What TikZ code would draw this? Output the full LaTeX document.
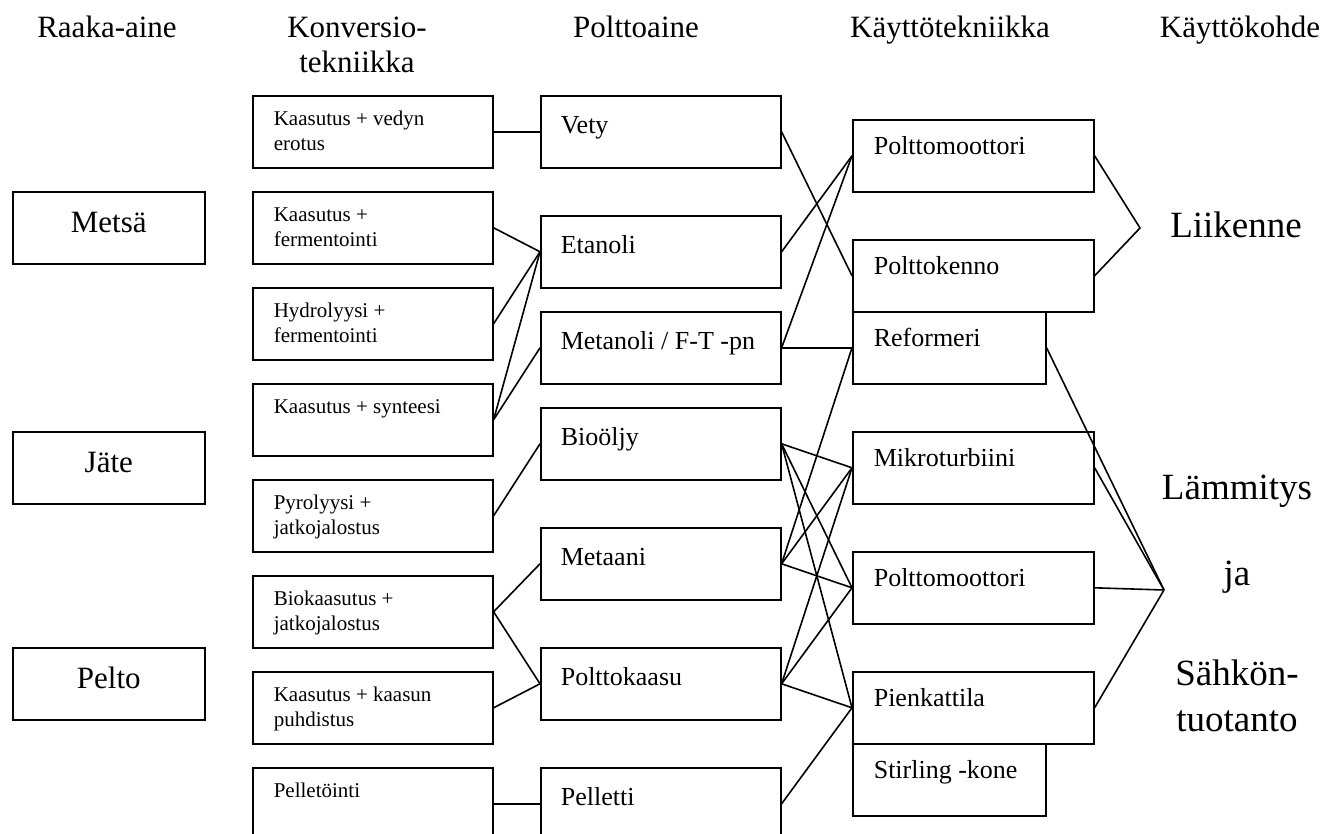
\documentclass[tikz,border=0pt]{standalone}
\usepackage{fontspec}
\setmainfont{Liberation Serif}
\usetikzlibrary{positioning}
\tikzset{
    box/.style={draw, rectangle, line width=1.6pt, inner ysep=0pt, anchor=north west, align=flush left},
    source/.style={box, align=flush center, inner xsep=0pt, text width=192pt, text height=41pt, text depth=31pt, font=\fontsize{31}{35}\selectfont},
    conv/.style={box, inner xsep=21pt, text width=198pt, text height=30pt, text depth=42pt, font=\fontsize{21}{25}\selectfont},
    fuel/.style={box, inner xsep=20pt, text width=200pt, text height=38pt, text depth=34pt, font=\fontsize{26}{30}\selectfont},
    tech/.style={box, inner xsep=21pt, text width=199pt, text height=35pt, text depth=37pt, font=\fontsize{26}{30}\selectfont},
    techs/.style={tech, text width=151pt},
    head/.style={anchor=base, align=flush center, text width=220pt, inner sep=0pt, font=\fontsize{31}{35}\selectfont},
    target/.style={anchor=base, align=flush center, text width=160pt, inner sep=0pt, font=\fontsize{37}{46}\selectfont},
    link/.style={line width=1.6pt} }

\begin{document}
\begin{tikzpicture}[x=1pt, y=-1pt]
	\useasboundingbox (0,0) rectangle (1328,834);
	% ---- otsikot
	\node[head] (hRaaka) at (107,38) {Raaka-aine};
	\node[head] (hKonv) at (357,38) {Konversio-\\tekniikka};
	\node[head] (hPoa) at (636,38) {Polttoaine};
	\node[head] (hKt) at (950,38) {Käyttötekniikka};
	\node[head] (hKohde) at (1240,38) {Käyttökohde};
	% ---- raaka-aineet
	\node[source] (metsa) at (12,191) {Metsä};
	\node[source] (jate) at (12,431) {Jäte};
	\node[source] (pelto) at (12,647) {Pelto};
	% ---- konversiotekniikat
	\node[conv] (kVety) at (252,95) {Kaasutus + vedyn\\erotus};
	\node[conv] (kFerm) at (252,191) {Kaasutus +\\fermentointi};
	\node[conv] (hydro) at (252,287) {Hydrolyysi +\\fermentointi};
	\node[conv] (synt) at (252,383) {Kaasutus + synteesi};
	\node[conv] (pyro) at (252,479) {Pyrolyysi +\\jatkojalostus};
	\node[conv] (biok) at (252,575) {Biokaasutus +\\jatkojalostus};
	\node[conv] (kPuhd) at (252,671) {Kaasutus + kaasun\\puhdistus};
	\node[conv] (pell) at (252,767) {Pelletöinti};
	% ---- polttoaineet
	\node[fuel] (vety) at (540,95) {Vety};
	\node[fuel] (etanoli) at (540,215) {Etanoli};
	\node[fuel] (metanoli) at (540,311) {\mbox{Metanoli / F-T -pn}};
	\node[fuel] (biooljy) at (540,407) {Bioöljy};
	\node[fuel] (metaani) at (540,527) {Metaani};
	\node[fuel] (pkaasu) at (540,647) {Polttokaasu};
	\node[fuel] (pelletti) at (540,767) {Pelletti};
	% ---- kayttotekniikat
	\node[tech] (pm1) at (852,119) {Polttomoottori};
	\node[tech] (kenno) at (852,239) {Polttokenno};
	\node[techs] (reform) at (852,311) {Reformeri};
	\node[tech] (mikro) at (852,431) {Mikroturbiini};
	\node[tech] (pm2) at (852,551) {Polttomoottori};
	\node[tech] (pienk) at (852,671) {Pienkattila};
	\node[techs] (stirl) at (852,743) {Stirling -kone};
	% ---- kayttokohteet
	\node[target] (liikenne) at (1236,238) {Liikenne};
	\node[target] (lammitys) at (1237,499) {Lämmitys\\[40pt]ja\\[54pt]Sähkön-\\tuotanto};
	\coordinate (liikP) at (1140,228);
	\coordinate (lampP) at (1164,590);
	% ---- konversio -> polttoaine
	\draw[link] (kVety.east) -- (vety.west);
	\draw[link] (kFerm.east) -- (etanoli.west);
	\draw[link] (hydro.east) -- (etanoli.west);
	\draw[link] (synt.east) -- (etanoli.west);
	\draw[link] (synt.east) -- (metanoli.west);
	\draw[link] (pyro.east) -- (biooljy.west);
	\draw[link] (biok.east) -- (metaani.west);
	\draw[link] (biok.east) -- (pkaasu.west);
	\draw[link] (kPuhd.east) -- (pkaasu.west);
	\draw[link] (pell.east) -- (pelletti.west);
	% ---- polttoaine -> kayttotekniikka
	\draw[link] (vety.east) -- (kenno.west);
	\draw[link] (etanoli.east) -- (pm1.west);
	\draw[link] (metanoli.east) -- (pm1.west);
	\draw[link] (metanoli.east) -- (reform.west);
	\draw[link] (biooljy.east) -- (mikro.west);
	\draw[link] (biooljy.east) -- (pm2.west);
	\draw[link] (biooljy.east) -- (pienk.west);
	\draw[link] (metaani.east) -- (reform.west);
	\draw[link] (metaani.east) -- (mikro.west);
	\draw[link] (metaani.east) -- (pm2.west);
	\draw[link] (pkaasu.east) -- (mikro.west);
	\draw[link] (pkaasu.east) -- (pm2.west);
	\draw[link] (pkaasu.east) -- (pienk.west);
	\draw[link] (pelletti.east) -- (pienk.west);
	% ---- kayttotekniikka -> kohde
	\draw[link] (pm1.east) -- (liikP) -- (kenno.east);
	\draw[link] (reform.east) -- (lampP);
	\draw[link] (mikro.east) -- (lampP);
	\draw[link] (pm2.east) -- (lampP);
	\draw[link] (pienk.east) -- (lampP);
\end{tikzpicture}
\end{document}
